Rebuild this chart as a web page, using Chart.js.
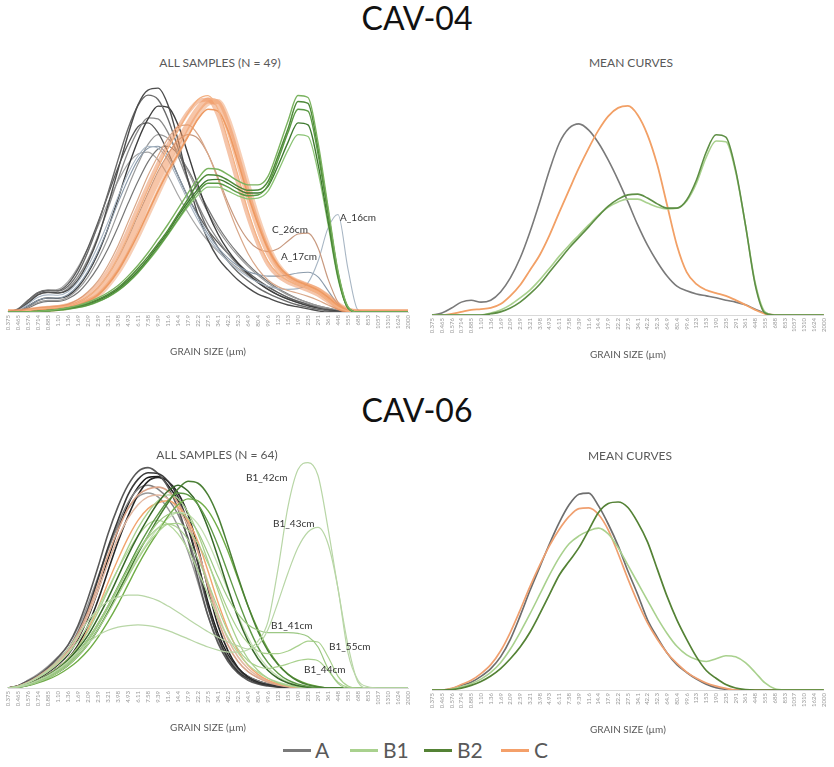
<!DOCTYPE html>
<html><head><meta charset="utf-8">
<script src="https://cdn.jsdelivr.net/npm/chart.js@4.4.0/dist/chart.umd.min.js"></script>
<style>
html,body{margin:0;padding:0;background:#fff;}
body{width:834px;height:767px;position:relative;overflow:hidden;font-family:Lato,"Open Sans",sans-serif;}
.t{position:absolute;white-space:nowrap;transform:translateX(-50%);z-index:3;}
.big{font-size:32px;line-height:36px;color:#111;}
.sub{font-size:12px;line-height:14px;color:#595959;}
.lab{position:absolute;font-size:10px;line-height:12px;color:#333;white-space:nowrap;z-index:3;}
.lg{position:absolute;height:3px;width:28px;top:749px;}
.lt{position:absolute;font-size:21px;line-height:21px;top:739px;color:#595959;}
canvas{position:absolute;}
</style></head>
<body>
<div class="t big" style="left:417px;top:0px;">CAV-04</div>
<div class="t sub" style="left:220px;top:56px;">ALL SAMPLES (N = 49)</div>
<div class="t sub" style="left:631px;top:56px;">MEAN CURVES</div>
<div class="t big" style="left:417px;top:392px;">CAV-06</div>
<div class="t sub" style="left:217px;top:448px;">ALL SAMPLES (N = 64)</div>
<div class="t sub" style="left:630px;top:449px;">MEAN CURVES</div>

<div class="lab" style="left:272px;top:223px;">C_26cm</div>
<div class="lab" style="left:340px;top:211px;">A_16cm</div>
<div class="lab" style="left:281px;top:250px;">A_17cm</div>
<div class="lab" style="left:246px;top:471px;">B1_42cm</div>
<div class="lab" style="left:273px;top:517px;">B1_43cm</div>
<div class="lab" style="left:271px;top:619px;">B1_41cm</div>
<div class="lab" style="left:329px;top:640px;">B1_55cm</div>
<div class="lab" style="left:304px;top:663px;">B1_44cm</div>

<div class="lg" style="left:283px;background:#7a7a7a;"></div><div class="lt" style="left:315px;">A</div>
<div class="lg" style="left:350px;background:#a9d18e;"></div><div class="lt" style="left:383px;">B1</div>
<div class="lg" style="left:424px;background:#548235;"></div><div class="lt" style="left:457px;">B2</div>
<div class="lg" style="left:501px;background:#f4a06a;"></div><div class="lt" style="left:534px;">C</div>

<canvas id="c1" width="420" height="284" style="left:0px;top:78px;"></canvas>
<canvas id="c2" width="414" height="284" style="left:420px;top:81px;"></canvas>
<canvas id="c3" width="420" height="284" style="left:0px;top:454px;"></canvas>
<canvas id="c4" width="414" height="284" style="left:420px;top:456px;"></canvas>

<script>
// ---- x categories (grain size, µm) ----
const grainSize = ['0.375','0.465','0.576','0.714','0.885','1.10','1.36','1.69','2.09','2.59','3.21','3.98','4.93','6.11','7.58','9.39','11.6','14.4','17.9','22.2','27.5','34.1','42.2','52.3','64.9','80.4','99.6','123','153','190','235','291','361','448','555','688','853','1057','1310','1624','2000'];

// ---- CAV-04 all samples: A ----
const cav04_A1 = [0,0.05,0.23,0.44,0.51,0.49,0.56,0.82,1.28,1.9,2.74,3.64,4.54,5.31,5.69,5.74,5.31,4.41,3.38,2.49,1.85,1.38,1.08,0.82,0.62,0.46,0.36,0.26,0.18,0.13,0.08,0.03,0,0,0,0,0,0,0,0,0];
const cav04_A2 = [0,0.08,0.3,0.5,0.56,0.54,0.66,1.0,1.55,2.25,3.05,3.9,4.7,5.3,5.56,5.45,4.95,4.2,3.4,2.7,2.1,1.65,1.3,1.02,0.8,0.62,0.48,0.36,0.26,0.18,0.12,0.07,0.03,0,0,0,0,0,0,0,0];
const cav04_A3 = [0,0.03,0.15,0.3,0.36,0.35,0.42,0.64,1.0,1.5,2.15,2.9,3.7,4.4,4.95,5.28,5.25,4.8,4.05,3.25,2.55,2.0,1.58,1.25,0.98,0.76,0.58,0.44,0.33,0.24,0.16,0.1,0.05,0.02,0,0,0,0,0,0,0];
const cav04_A4 = [0,0.05,0.25,0.45,0.5,0.48,0.6,0.9,1.35,1.95,2.65,3.4,4.1,4.65,4.98,4.95,4.6,4.0,3.35,2.75,2.25,1.85,1.5,1.2,0.95,0.75,0.58,0.44,0.33,0.24,0.17,0.11,0.06,0.02,0,0,0,0,0,0,0];
const cav04_A5 = [0,0.06,0.28,0.48,0.55,0.55,0.72,1.1,1.65,2.3,3.0,3.7,4.3,4.75,4.85,4.6,4.1,3.5,2.95,2.5,2.1,1.78,1.5,1.25,1.02,0.82,0.65,0.5,0.37,0.27,0.19,0.12,0.07,0.03,0,0,0,0,0,0,0];
const cav04_A6 = [0,0.02,0.12,0.25,0.3,0.3,0.38,0.58,0.9,1.35,1.9,2.55,3.2,3.8,4.3,4.55,4.45,4.1,3.6,3.05,2.55,2.12,1.75,1.44,1.17,0.94,0.74,0.58,0.44,0.33,0.24,0.16,0.1,0.05,0.02,0,0,0,0,0,0];
const cav04_A7 = [0,0.02,0.1,0.22,0.27,0.27,0.34,0.5,0.78,1.15,1.62,2.18,2.78,3.35,3.85,4.18,4.25,4.05,3.65,3.15,2.65,2.2,1.82,1.5,1.22,0.98,0.78,0.6,0.46,0.34,0.24,0.16,0.1,0.05,0.02,0,0,0,0,0,0];
const cav04_A8 = [0,0.07,0.3,0.5,0.56,0.58,0.78,1.15,1.65,2.2,2.8,3.35,3.8,4.05,4.1,3.9,3.5,3.0,2.55,2.15,1.82,1.55,1.32,1.12,0.94,0.78,0.63,0.5,0.38,0.28,0.2,0.13,0.08,0.04,0.01,0,0,0,0,0,0];
const cav04_A16cm = [0,0.04,0.2,0.38,0.44,0.43,0.52,0.78,1.18,1.7,2.3,2.95,3.55,4.0,4.25,4.2,3.9,3.4,2.85,2.35,1.92,1.58,1.3,1.08,0.9,0.76,0.66,0.6,0.58,0.6,0.75,1.3,2.15,2.5,1.1,0.05,0,0,0,0,0];
const cav04_A17cm = [0,0.03,0.15,0.3,0.36,0.36,0.45,0.68,1.05,1.55,2.15,2.8,3.4,3.9,4.2,4.25,4.0,3.5,2.95,2.45,2.0,1.65,1.38,1.18,1.04,0.96,0.92,0.92,0.95,1.0,1.02,0.9,0.55,0.2,0.03,0,0,0,0,0,0];
// ---- CAV-04 all samples: C ----
const cav04_C1 = [0,0,0.03,0.06,0.08,0.1,0.13,0.2,0.32,0.5,0.8,1.2,1.7,2.25,2.85,3.4,3.9,4.35,4.8,5.2,5.42,5.35,4.75,3.9,3.0,2.2,1.55,1.12,0.88,0.75,0.66,0.55,0.36,0.15,0.03,0,0,0,0,0,0];
const cav04_C2 = [0,0,0.04,0.08,0.1,0.12,0.16,0.25,0.4,0.62,0.95,1.4,1.95,2.55,3.15,3.7,4.2,4.65,5.1,5.45,5.55,5.2,4.4,3.5,2.6,1.85,1.3,0.98,0.8,0.7,0.6,0.48,0.3,0.12,0.02,0,0,0,0,0,0];
const cav04_C3 = [0,0,0.02,0.05,0.07,0.09,0.12,0.18,0.28,0.44,0.7,1.05,1.5,2.0,2.55,3.1,3.6,4.05,4.5,4.95,5.2,5.15,4.65,3.85,3.0,2.25,1.62,1.2,0.93,0.78,0.68,0.56,0.38,0.17,0.04,0,0,0,0,0,0];
const cav04_C4 = [0,0,0.05,0.1,0.12,0.14,0.2,0.32,0.52,0.8,1.2,1.7,2.3,2.9,3.5,4.0,4.45,4.75,4.8,4.55,4.05,3.4,2.7,2.05,1.5,1.1,0.82,0.65,0.55,0.48,0.4,0.3,0.18,0.07,0.01,0,0,0,0,0,0];
const cav04_C5 = [0,0,0.02,0.05,0.07,0.09,0.12,0.18,0.28,0.42,0.68,1.02,1.45,1.95,2.5,3.05,3.6,4.1,4.6,5.05,5.35,5.4,4.95,4.15,3.25,2.4,1.7,1.2,0.92,0.78,0.68,0.57,0.4,0.2,0.05,0,0,0,0,0,0];
const cav04_C6 = [0,0,0.04,0.08,0.11,0.13,0.18,0.28,0.45,0.7,1.05,1.52,2.08,2.68,3.25,3.8,4.28,4.72,5.12,5.4,5.45,5.05,4.2,3.3,2.45,1.75,1.22,0.92,0.76,0.66,0.56,0.44,0.27,0.1,0.02,0,0,0,0,0,0];
const cav04_C26cm = [0,0,0.03,0.07,0.1,0.12,0.16,0.25,0.4,0.62,0.95,1.38,1.9,2.48,3.05,3.6,4.05,4.4,4.55,4.45,4.05,3.45,2.8,2.25,1.85,1.62,1.55,1.62,1.82,2.0,2.02,1.65,0.85,0.25,0.04,0,0,0,0,0,0];
// ---- CAV-04 all samples: B2 ----
const cav04_B2a = [0,0,0,0.02,0.04,0.06,0.1,0.15,0.22,0.32,0.45,0.62,0.85,1.12,1.42,1.75,2.1,2.5,2.9,3.3,3.52,3.5,3.38,3.22,3.12,3.13,3.35,4.0,4.7,5.4,5.35,4.2,2.6,1.0,0.12,0,0,0,0,0,0];
const cav04_B2b = [0,0,0,0.01,0.03,0.05,0.08,0.12,0.18,0.27,0.39,0.55,0.76,1.02,1.32,1.65,2.0,2.38,2.75,3.08,3.3,3.3,3.2,3.06,2.98,3.0,3.25,3.9,4.6,5.2,5.15,4.05,2.5,0.95,0.1,0,0,0,0,0,0];
const cav04_B2c = [0,0,0,0.02,0.04,0.06,0.09,0.14,0.21,0.3,0.42,0.58,0.8,1.06,1.36,1.7,2.05,2.45,2.82,3.15,3.38,3.4,3.3,3.15,3.05,3.05,3.22,3.75,4.35,4.85,4.8,3.8,2.35,0.9,0.1,0,0,0,0,0,0];
const cav04_B2d = [0,0,0,0.01,0.02,0.04,0.07,0.11,0.17,0.26,0.38,0.54,0.75,1.0,1.3,1.62,1.98,2.35,2.7,3.0,3.2,3.2,3.1,2.98,2.9,2.92,3.1,3.6,4.15,4.55,4.5,3.6,2.25,0.85,0.1,0,0,0,0,0,0];
const cav04_B2e = [0,0,0,0.02,0.04,0.07,0.11,0.17,0.25,0.36,0.5,0.68,0.92,1.2,1.52,1.88,2.25,2.65,3.05,3.42,3.68,3.66,3.52,3.36,3.26,3.26,3.48,4.15,4.9,5.55,5.5,4.35,2.7,1.05,0.14,0,0,0,0,0,0];

// ---- CAV-04 mean curves ----
const mean04_A  = [0,0.05,0.18,0.33,0.38,0.33,0.38,0.59,0.95,1.46,2.13,2.9,3.72,4.41,4.79,4.9,4.74,4.41,3.97,3.46,2.9,2.31,1.79,1.36,1.0,0.74,0.62,0.54,0.49,0.44,0.38,0.33,0.26,0.15,0.05,0,0,0,0,0,0];
const mean04_B1 = [0,0,0,0,0,0,0.05,0.13,0.26,0.44,0.64,0.9,1.2,1.51,1.79,2.05,2.31,2.56,2.77,2.9,2.97,2.97,2.87,2.77,2.72,2.74,2.92,3.38,4.05,4.46,4.44,3.67,2.31,0.82,0.08,0,0,0,0,0,0];
const mean04_B2 = [0,0,0,0,0,0,0.03,0.08,0.18,0.33,0.54,0.79,1.1,1.41,1.72,1.99,2.26,2.54,2.79,2.97,3.08,3.1,3.0,2.85,2.74,2.74,2.95,3.46,4.18,4.62,4.56,3.72,2.31,0.77,0.05,0,0,0,0,0,0];
const mean04_C  = [0,0,0.03,0.08,0.13,0.15,0.18,0.28,0.49,0.77,1.15,1.54,2.05,2.64,3.21,3.77,4.28,4.74,5.1,5.31,5.36,5.13,4.62,3.85,2.82,1.79,1.1,0.79,0.64,0.56,0.49,0.38,0.26,0.13,0.03,0,0,0,0,0,0];

// ---- CAV-06 all samples ----
const cav06_A1 = [0,0.05,0.15,0.28,0.45,0.68,0.95,1.4,2.0,2.8,3.6,4.3,4.95,5.35,5.52,5.5,5.3,4.9,4.2,3.2,2.1,1.3,0.75,0.42,0.24,0.13,0.07,0.03,0,0,0,0,0,0,0,0,0,0,0,0,0];
const cav06_A2 = [0,0.06,0.18,0.32,0.52,0.78,1.1,1.6,2.3,3.1,3.95,4.65,5.2,5.55,5.65,5.5,5.15,4.6,3.8,2.8,1.85,1.15,0.68,0.38,0.2,0.1,0.05,0.02,0,0,0,0,0,0,0,0,0,0,0,0,0];
const cav06_A3 = [0,0.03,0.1,0.2,0.34,0.52,0.75,1.1,1.6,2.25,3.0,3.75,4.4,4.95,5.3,5.4,5.3,5.0,4.45,3.6,2.55,1.6,0.95,0.52,0.28,0.15,0.08,0.04,0.01,0,0,0,0,0,0,0,0,0,0,0,0];
const cav06_A4 = [0,0.05,0.16,0.3,0.5,0.72,1.0,1.45,2.05,2.8,3.55,4.2,4.75,5.1,5.2,5.1,4.85,4.45,3.85,3.0,2.05,1.3,0.8,0.48,0.3,0.18,0.1,0.05,0.02,0,0,0,0,0,0,0,0,0,0,0,0];
const cav06_A5 = [0,0.04,0.12,0.24,0.4,0.6,0.85,1.25,1.8,2.5,3.3,4.05,4.7,5.15,5.4,5.42,5.2,4.8,4.1,3.2,2.2,1.4,0.85,0.5,0.3,0.18,0.1,0.05,0.02,0,0,0,0,0,0,0,0,0,0,0,0];
const cav06_A6 = [0,0.06,0.2,0.36,0.56,0.8,1.1,1.55,2.15,2.85,3.55,4.15,4.6,4.9,5.0,4.9,4.6,4.15,3.5,2.7,1.85,1.2,0.75,0.45,0.28,0.17,0.1,0.05,0.02,0,0,0,0,0,0,0,0,0,0,0,0];
const cav06_C1 = [0,0.04,0.14,0.28,0.45,0.66,0.92,1.3,1.85,2.5,3.2,3.85,4.35,4.7,4.9,4.95,4.85,4.6,4.15,3.5,2.7,1.9,1.25,0.8,0.5,0.3,0.18,0.1,0.05,0.02,0,0,0,0,0,0,0,0,0,0,0];
const cav06_C2 = [0,0.05,0.15,0.3,0.48,0.7,0.98,1.4,1.95,2.65,3.4,4.05,4.6,4.95,5.1,5.15,5.05,4.75,4.25,3.5,2.6,1.75,1.1,0.68,0.42,0.26,0.15,0.08,0.03,0,0,0,0,0,0,0,0,0,0,0,0];
const cav06_C3 = [0,0.03,0.1,0.2,0.34,0.52,0.75,1.05,1.5,2.05,2.7,3.3,3.85,4.3,4.6,4.75,4.8,4.65,4.3,3.75,3.0,2.2,1.5,0.95,0.58,0.35,0.2,0.11,0.05,0.02,0,0,0,0,0,0,0,0,0,0,0];
const cav06_B2a = [0,0.02,0.07,0.15,0.26,0.4,0.58,0.82,1.12,1.5,1.95,2.45,2.95,3.45,3.9,4.35,4.75,5.1,5.3,5.25,4.95,4.4,3.65,2.85,2.1,1.45,0.95,0.6,0.35,0.18,0.08,0.03,0,0,0,0,0,0,0,0,0];
const cav06_B2b = [0,0.03,0.09,0.18,0.3,0.46,0.66,0.92,1.25,1.65,2.1,2.6,3.1,3.6,4.05,4.45,4.8,5.0,4.95,4.7,4.25,3.65,2.95,2.25,1.6,1.05,0.65,0.38,0.2,0.1,0.04,0,0,0,0,0,0,0,0,0,0];
const cav06_B2c = [0,0.02,0.06,0.13,0.22,0.34,0.5,0.7,0.96,1.3,1.7,2.15,2.65,3.15,3.6,4.0,4.4,4.7,4.85,4.8,4.55,4.1,3.5,2.8,2.1,1.5,1.0,0.62,0.36,0.2,0.1,0.04,0,0,0,0,0,0,0,0,0];
const cav06_B2d = [0,0.03,0.1,0.2,0.33,0.5,0.72,1.0,1.35,1.8,2.3,2.85,3.4,3.9,4.35,4.75,5.05,5.2,5.05,4.7,4.1,3.35,2.55,1.8,1.2,0.75,0.45,0.25,0.13,0.06,0.02,0,0,0,0,0,0,0,0,0,0];
const cav06_B1a = [0,0.03,0.1,0.2,0.34,0.52,0.75,1.05,1.45,1.95,2.5,3.05,3.6,4.1,4.5,4.8,4.95,4.85,4.5,3.95,3.25,2.5,1.8,1.2,0.75,0.45,0.25,0.13,0.06,0.02,0,0,0,0,0,0,0,0,0,0,0];
const cav06_B1b = [0,0.02,0.07,0.15,0.26,0.4,0.58,0.82,1.12,1.5,1.95,2.42,2.9,3.35,3.75,4.1,4.35,4.5,4.45,4.2,3.75,3.15,2.5,1.85,1.3,0.85,0.52,0.3,0.16,0.08,0.03,0,0,0,0,0,0,0,0,0,0];
const cav06_B1c = [0,0.04,0.13,0.26,0.42,0.62,0.88,1.2,1.6,2.05,2.55,3.05,3.5,3.9,4.2,4.3,4.2,3.95,3.55,3.0,2.4,1.8,1.3,0.9,0.6,0.4,0.25,0.15,0.08,0.03,0,0,0,0,0,0,0,0,0,0,0];
const cav06_B1_41cm = [0,0.02,0.08,0.16,0.28,0.43,0.62,0.88,1.2,1.6,2.05,2.55,3.05,3.5,3.9,4.25,4.45,4.5,4.35,4.0,3.45,2.85,2.3,1.9,1.62,1.48,1.42,1.42,1.42,1.4,1.32,1.05,0.5,0.12,0,0,0,0,0,0,0];
const cav06_B1_42cm = [0,0.03,0.1,0.2,0.32,0.48,0.68,0.92,1.15,1.35,1.48,1.56,1.6,1.62,1.6,1.55,1.47,1.37,1.26,1.15,1.05,0.97,0.92,0.92,0.98,1.2,1.7,3.05,4.65,5.6,5.78,5.45,4.1,2.55,1.1,0.15,0,0,0,0,0];
const cav06_B1_43cm = [0,0.04,0.14,0.28,0.46,0.7,1.0,1.35,1.72,2.02,2.22,2.33,2.38,2.38,2.33,2.24,2.1,1.94,1.77,1.6,1.44,1.3,1.18,1.08,1.0,1.1,1.5,2.2,2.95,3.6,4.0,4.12,3.7,2.55,0.9,0.2,0.03,0,0,0,0];
const cav06_B1_44cm = [0,0.03,0.09,0.18,0.3,0.46,0.66,0.92,1.25,1.65,2.1,2.58,3.05,3.5,3.85,4.1,4.2,4.1,3.8,3.3,2.7,2.05,1.45,1.0,0.7,0.55,0.5,0.55,0.62,0.7,0.74,0.7,0.45,0.15,0.02,0,0,0,0,0,0];
const cav06_B1_55cm = [0,0.02,0.07,0.15,0.26,0.4,0.58,0.82,1.12,1.5,1.92,2.38,2.85,3.3,3.7,4.0,4.2,4.22,4.05,3.7,3.2,2.6,2.0,1.5,1.15,0.95,0.88,0.88,0.95,1.08,1.2,1.18,0.8,0.3,0.05,0,0,0,0,0,0];

// ---- CAV-06 mean curves ----
const mean06_A  = [0,0,0.03,0.12,0.2,0.35,0.55,0.85,1.3,1.9,2.55,3.15,3.75,4.3,4.75,5.02,5.05,4.72,4.25,3.7,3.05,2.45,1.8,1.35,0.95,0.65,0.45,0.28,0.15,0.06,0.02,0,0,0,0,0,0,0,0,0,0];
const mean06_B1 = [0,0,0.02,0.08,0.16,0.28,0.45,0.7,1.05,1.48,1.95,2.45,2.95,3.4,3.75,3.95,4.08,4.15,4.0,3.65,3.2,2.75,2.3,1.85,1.45,1.12,0.9,0.78,0.73,0.8,0.88,0.85,0.7,0.45,0.18,0.03,0,0,0,0,0];
const mean06_B2 = [0,0,0.01,0.05,0.12,0.22,0.36,0.55,0.8,1.1,1.48,1.95,2.45,2.95,3.3,3.65,4.1,4.55,4.78,4.82,4.68,4.3,3.8,3.1,2.4,1.8,1.3,0.85,0.5,0.3,0.14,0.05,0.01,0,0,0,0,0,0,0,0];
const mean06_C  = [0,0,0.04,0.14,0.25,0.42,0.65,1.0,1.48,2.05,2.65,3.2,3.7,4.12,4.45,4.65,4.67,4.5,4.1,3.5,2.85,2.25,1.72,1.3,0.95,0.68,0.46,0.3,0.18,0.1,0.04,0,0,0,0,0,0,0,0,0,0];

// ---- chart building ----
Chart.defaults.font.family = 'Lato, "Open Sans", sans-serif';
function ds(data, color, width){
  return {data:data, borderColor:color, borderWidth:width||1.3, fill:false, pointRadius:0, cubicInterpolationMode:'monotone'};
}
function build(id, datasets, padL, padR){
  new Chart(document.getElementById(id), {
    type:'line',
    data:{labels:grainSize, datasets:datasets},
    options:{
      responsive:false, animation:false, devicePixelRatio:1,
      layout:{padding:{left:padL,right:padR,top:0,bottom:0}},
      plugins:{legend:{display:false}, tooltip:{enabled:false}},
      scales:{
        x:{type:'category', offset:false,
           grid:{display:false, drawTicks:false},
           border:{display:true, color:'#d9d9d9'},
           ticks:{autoSkip:false, maxRotation:90, minRotation:90, padding:3, font:{size:6}, color:'#9a9a9a'},
           title:{display:true, text:'GRAIN SIZE (µm)', font:{size:10}, color:'#595959', padding:{top:4,bottom:4}},
           afterFit:function(s){ s.height = 50; }},
        y:{display:false, min:0, max:6}
      }
    }
  });
}

build('c1', [
  ds(cav04_B2e,'#7ab35f',1.4), ds(cav04_B2a,'#4f8a3a',1.5), ds(cav04_B2b,'#5a9a44',1.4), ds(cav04_B2c,'#3f7a30',1.4), ds(cav04_B2d,'#8cc476',1.3),
  ds(cav04_C2,'#f4b183',1.3), ds(cav04_C3,'#ee9a62',1.6),
  ds(cav04_C1,'rgba(240,150,95,0.55)',6), ds(cav04_C5,'rgba(240,160,110,0.5)',5), ds(cav04_C6,'rgba(236,140,85,0.5)',4),
  ds(cav04_C4,'#d9a88a',1.2), ds(cav04_C26cm,'#c89a80',1.2),
  ds(cav04_A16cm,'#a8b6c4',1.1), ds(cav04_A17cm,'#8a9aaa',1.1),
  ds(cav04_A1,'#4d4d4d',1.4), ds(cav04_A2,'#6b6b6b',1.4), ds(cav04_A3,'#3f3f3f',1.4), ds(cav04_A4,'#8a8a8a',1.3),
  ds(cav04_A5,'#5a5a5a',1.3), ds(cav04_A6,'#9a9a9a',1.2), ds(cav04_A7,'#777777',1.2), ds(cav04_A8,'#a6a6a6',1.2)
], 8, 12);

build('c2', [
  ds(mean04_B2,'#5e8f45',1.6), ds(mean04_B1,'#a9d18e',1.6), ds(mean04_C,'#f2a066',1.8), ds(mean04_A,'#7a7a7a',1.6)
], 12, 6);

build('c3', [
  ds(cav06_B1_42cm,'#b8d6a6',1.2), ds(cav06_B1_43cm,'#b8d6a6',1.2), ds(cav06_B1_41cm,'#9cc884',1.2),
  ds(cav06_B1_55cm,'#a9d18e',1.2), ds(cav06_B1_44cm,'#a9d18e',1.2),
  ds(cav06_B2a,'#4a7f35',1.5), ds(cav06_B2b,'#5f9a48',1.4), ds(cav06_B2c,'#70ad47',1.4), ds(cav06_B2d,'#38692a',1.5),
  ds(cav06_B1a,'#a9d18e',1.3), ds(cav06_B1b,'#c5e0b4',1.3), ds(cav06_B1c,'#b4d89c',1.3),
  ds(cav06_C3,'#f2a56e',1.4), ds(cav06_C2,'#d9a48a',1.6), ds(cav06_C1,'#e3b9a3',1.6),
  ds(cav06_A1,'#3a3a3a',1.6), ds(cav06_A2,'#595959',1.6), ds(cav06_A3,'#262626',1.6),
  ds(cav06_A4,'#7f7f7f',1.5), ds(cav06_A5,'#1a1a1a',1.5), ds(cav06_A6,'#999999',1.4)
], 8, 12);

build('c4', [
  ds(mean06_B2,'#548235',1.7), ds(mean06_B1,'#a9d18e',1.6), ds(mean06_C,'#f0a070',1.7), ds(mean06_A,'#6e6e6e',1.7)
], 12, 6);
</script>
</body></html>
